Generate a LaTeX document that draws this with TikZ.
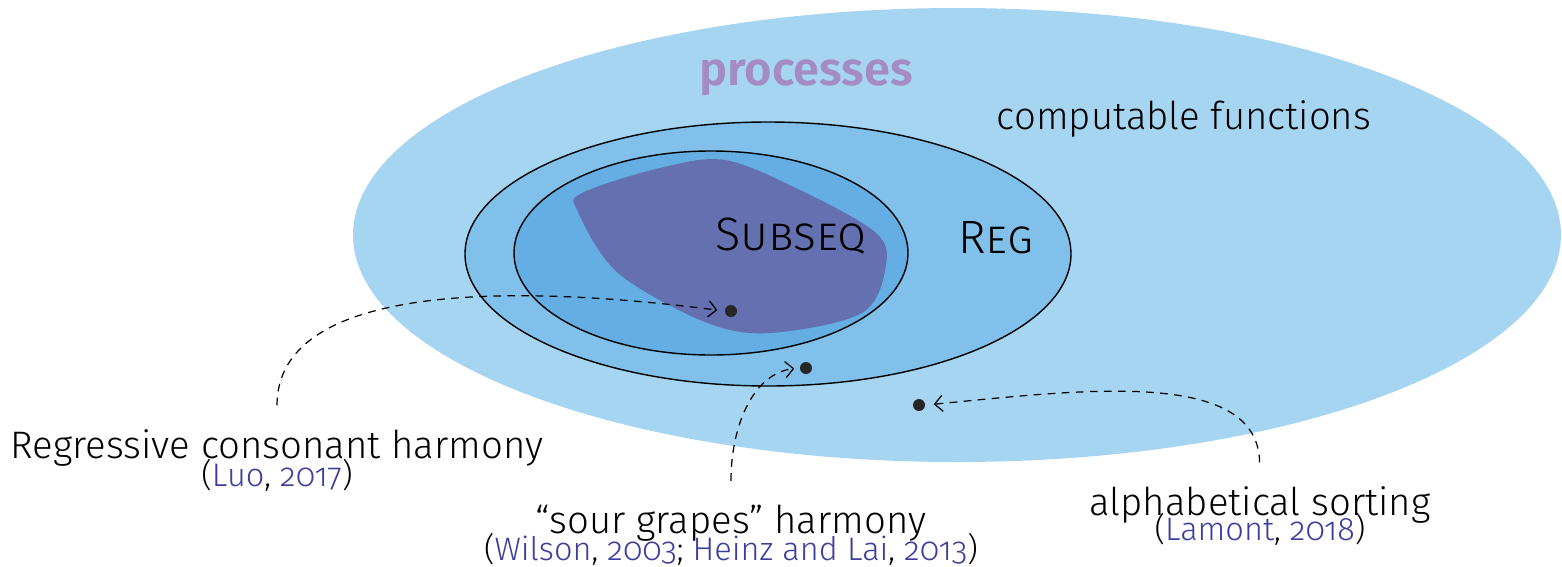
\documentclass[tikz,border=0pt]{standalone}
\usepackage{fontspec}
\setmainfont{Fira Sans}[UprightFont=* Light, BoldFont=* SemiBold, Numbers=OldStyle]
\usetikzlibrary{calc,positioning,arrows.meta}
\tikzset{>={Straight Barb[width=1.6mm,length=0.8mm]}}

\definecolor{compblue}{HTML}{A6D5F2}
\definecolor{regblue}{HTML}{80C0EA}
\definecolor{subblue}{HTML}{64AEE3}
\definecolor{procfill}{HTML}{6470B0}
\definecolor{proctext}{HTML}{A48BC3}
\definecolor{citeblue}{HTML}{3D3DA0}
\newcommand{\cref}[1]{\textcolor{citeblue}{#1}}

\begin{document}
\begin{tikzpicture}[x=0.01cm, y=-0.01cm]
          \tikzstyle{lbl} = [inner sep=0pt, font=\fontsize{10.9}{12}\selectfont]
          \tikzstyle{refnode} = [inner sep=0pt, font=\fontsize{9.25}{10}\selectfont]
          \tikzstyle{cls} = [inner sep=0pt, font=\fontsize{13.3}{15}\selectfont\scshape]
          \tikzstyle{dotnode} = [circle, fill=black!85, inner sep=0pt, minimum size=1.2mm]
          \tikzstyle{pointer} = [->, dash pattern=on 2.2pt off 1.8pt, line width=0.35pt, shorten <=2.3mm]
          \useasboundingbox (0,0) rectangle (1562,566);

          % nested classes
          \fill[compblue] (957,235) ellipse [x radius=604, y radius=227];
          \filldraw[fill=regblue, draw=black] (768,254) ellipse [x radius=303, y radius=132];
          \filldraw[fill=subblue, draw=black] (711,253) ellipse [x radius=197, y radius=102];
          \fill[procfill] plot[smooth cycle, tension=0.55] coordinates {(582,193) (660,168) (725,160) (800,190) (875,232) (886,265) (862,313) (770,333) (705,322) (618,273) (578,212)};

          \node[font=\fontsize{13.4}{15}\selectfont\bfseries, text=proctext] (proc) at (806,78) {processes};
          \node[lbl] (comp) at (1184,119) {computable functions};
          \node[cls] (subseq) at (791,236) {Subseq};
          \node[cls] (reg) at (996,238) {Reg};

          \node[dotnode] (dotA) at (731,311) {};
          \node[dotnode] (dotB) at (806,368) {};
          \node[dotnode] (dotC) at (919,405) {};

          \node[lbl, anchor=base] (regr) at (277,458) {Regressive consonant harmony};
          \node[refnode, anchor=base] (regrref) at (277,486) {(\cref{Luo}, \cref{2017})};
          \node[lbl, anchor=base] (sour) at (731,533) {“sour grapes” harmony};
          \node[refnode, anchor=base] (sourref) at (731,560) {(\cref{Wilson}, \cref{2003}; \cref{Heinz and Lai}, \cref{2013})};
          \node[lbl, anchor=base] (alph) at (1260,515) {alphabetical sorting};
          \node[refnode, anchor=base] (alphref) at (1260,540) {(\cref{Lamont}, \cref{2018})};

          \draw[pointer, shorten >=0.7mm] (regr.north) .. controls +(0,-142) and +(-225,-29) .. (dotA.west);
          \draw[pointer, shorten >=0.5mm] (sour.north) .. controls +(0,-80) and +(-45,5) .. (dotB.west);
          \draw[pointer, shorten >=0.8mm] (alph.north) .. controls +(-2,-118) and +(155,-15) .. (dotC.east);
        \end{tikzpicture}
\end{document}
